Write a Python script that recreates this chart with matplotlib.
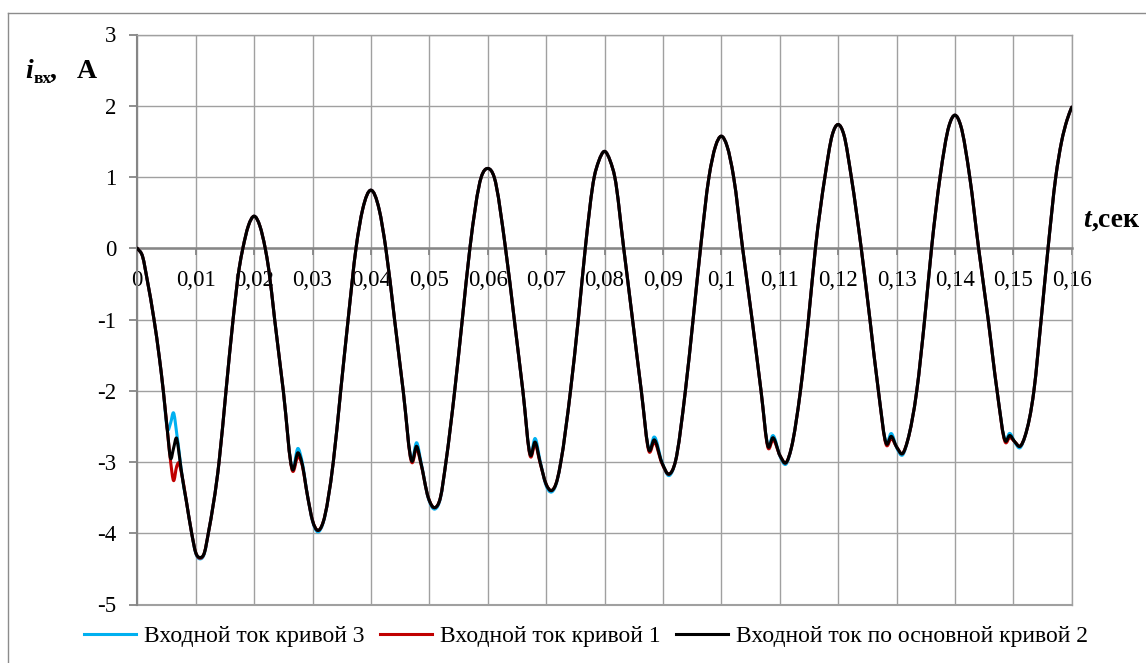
import numpy as np
import matplotlib
matplotlib.use("Agg")
import matplotlib.pyplot as plt
from matplotlib.path import Path
from matplotlib.patches import PathPatch
from matplotlib.lines import Line2D

plt.rcParams["font.family"] = ["Liberation Serif", "DejaVu Serif"]

# time, s
t = [
    0.00000, 0.00092, 0.00171, 0.00286, 0.00377, 0.00445, 0.00515, 0.00571,
    0.00620, 0.00675, 0.00710, 0.00750, 0.00840, 0.00931, 0.01000, 0.01074,
    0.01150, 0.01216, 0.01400, 0.01519, 0.01640, 0.01745, 0.01808, 0.01900,
    0.02000, 0.02100, 0.02190, 0.02248,
    0.02352, 0.02500, 0.02661, 0.02752, 0.02815, 0.02920, 0.03000, 0.03089,
    0.03180, 0.03356, 0.03483, 0.03610, 0.03745, 0.03860, 0.04000, 0.04140,
    0.04255,
    0.04405, 0.04553, 0.04704, 0.04784, 0.04853, 0.04983, 0.05098, 0.05190,
    0.05285, 0.05435, 0.05565, 0.05695, 0.05890, 0.06000, 0.06110, 0.06305,
    0.06455, 0.06602, 0.06736, 0.06810, 0.06896, 0.07000, 0.07096, 0.07190,
    0.07252, 0.07418, 0.07551, 0.07671, 0.07824, 0.07900, 0.08000, 0.08100,
    0.08176, 0.08329,
    0.08480, 0.08630, 0.08767, 0.08848, 0.08979, 0.09110, 0.09212, 0.09385,
    0.09517, 0.09644, 0.09789, 0.09900, 0.10000, 0.10100, 0.10211, 0.10365,
    0.10527, 0.10680, 0.10805, 0.10880, 0.11005, 0.11108, 0.11200, 0.11355,
    0.11492, 0.11612, 0.11774, 0.11900, 0.12000, 0.12100, 0.12226, 0.12396,
    0.12545, 0.12690, 0.12832, 0.12906, 0.13003, 0.13106, 0.13190, 0.13347,
    0.13482, 0.13600, 0.13746, 0.13900, 0.14000, 0.14100, 0.14254, 0.14406,
    0.14570, 0.14722, 0.14870, 0.14932, 0.15029, 0.15115, 0.15200, 0.15353,
    0.15477, 0.15595, 0.15727, 0.15825, 0.15920, 0.16000,
]

# input current for the main curve 2, A
i_main = [
    0.00, -0.12, -0.45, -1.00, -1.53, -2.00, -2.56, -2.95,
    -2.81, -2.67, -2.85, -3.10, -3.55, -4.00, -4.27, -4.34,
    -4.27, -4.00, -3.00, -2.00, -1.00, -0.28, 0.00, 0.31,
    0.45, 0.31, 0.00, -0.28,
    -1.00, -2.00, -3.11, -2.87, -3.00, -3.50, -3.82, -3.96,
    -3.85, -3.00, -2.00, -1.00, 0.00, 0.55, 0.815, 0.55,
    0.00,
    -1.00, -2.00, -2.99, -2.78, -3.00, -3.50, -3.64, -3.50,
    -3.00, -2.00, -1.00, 0.00, 1.00, 1.12, 1.00, 0.00,
    -1.00, -2.00, -2.91, -2.72, -3.00, -3.31, -3.40, -3.25,
    -3.00, -2.00, -1.00, 0.00, 1.00, 1.22, 1.36, 1.22,
    1.00, 0.00,
    -1.00, -2.00, -2.84, -2.69, -3.00, -3.17, -3.00, -2.00,
    -1.00, 0.00, 1.00, 1.43, 1.573, 1.43, 1.00, 0.00,
    -1.00, -2.00, -2.79, -2.66, -2.91, -3.01, -2.80, -2.00,
    -1.00, 0.00, 1.00, 1.59, 1.737, 1.59, 1.00, 0.00,
    -1.00, -2.00, -2.75, -2.64, -2.79, -2.88, -2.70, -2.00,
    -1.00, 0.00, 1.00, 1.72, 1.868, 1.72, 1.00, 0.00,
    -1.00, -2.00, -2.71, -2.63, -2.72, -2.78, -2.64, -2.00,
    -1.00, 0.00, 1.00, 1.49, 1.80, 1.98,
]

# input current for curve 3, A
i_curve3 = [
    0.00, -0.12, -0.45, -1.00, -1.53, -2.00, -2.54, -2.45,
    -2.31, -2.60, -2.82, -3.10, -3.55, -4.00, -4.28, -4.36,
    -4.28, -4.00, -3.00, -2.00, -1.00, -0.28, 0.00, 0.31,
    0.45, 0.31, 0.00, -0.28,
    -1.00, -2.00, -3.10, -2.81, -2.97, -3.50, -3.83, -3.98,
    -3.86, -3.00, -2.00, -1.00, 0.00, 0.55, 0.815, 0.55,
    0.00,
    -1.00, -2.00, -2.98, -2.73, -2.98, -3.51, -3.66, -3.51,
    -3.00, -2.00, -1.00, 0.00, 1.00, 1.12, 1.00, 0.00,
    -1.00, -2.00, -2.90, -2.67, -2.98, -3.33, -3.42, -3.26,
    -3.00, -2.00, -1.00, 0.00, 1.00, 1.22, 1.36, 1.22,
    1.00, 0.00,
    -1.00, -2.00, -2.83, -2.65, -2.99, -3.19, -3.00, -2.00,
    -1.00, 0.00, 1.00, 1.43, 1.573, 1.43, 1.00, 0.00,
    -1.00, -2.00, -2.78, -2.63, -2.92, -3.03, -2.80, -2.00,
    -1.00, 0.00, 1.00, 1.59, 1.737, 1.59, 1.00, 0.00,
    -1.00, -2.00, -2.74, -2.60, -2.80, -2.90, -2.70, -2.00,
    -1.00, 0.00, 1.00, 1.72, 1.868, 1.72, 1.00, 0.00,
    -1.00, -2.00, -2.70, -2.60, -2.73, -2.80, -2.64, -2.00,
    -1.00, 0.00, 1.00, 1.49, 1.80, 1.98,
]

# input current for curve 1, A
i_curve1 = [
    0.00, -0.12, -0.45, -1.00, -1.53, -2.00, -2.56, -3.00,
    -3.26, -3.06, -3.01, -3.13, -3.55, -4.00, -4.27, -4.35,
    -4.27, -4.00, -3.00, -2.00, -1.00, -0.28, 0.00, 0.31,
    0.45, 0.31, 0.00, -0.28,
    -1.00, -2.00, -3.13, -2.92, -3.02, -3.50, -3.82, -3.96,
    -3.85, -3.00, -2.00, -1.00, 0.00, 0.55, 0.815, 0.55,
    0.00,
    -1.00, -2.00, -3.01, -2.81, -3.01, -3.50, -3.64, -3.50,
    -3.00, -2.00, -1.00, 0.00, 1.00, 1.12, 1.00, 0.00,
    -1.00, -2.00, -2.93, -2.75, -3.01, -3.31, -3.40, -3.25,
    -3.00, -2.00, -1.00, 0.00, 1.00, 1.22, 1.36, 1.22,
    1.00, 0.00,
    -1.00, -2.00, -2.86, -2.72, -3.01, -3.17, -3.00, -2.00,
    -1.00, 0.00, 1.00, 1.43, 1.573, 1.43, 1.00, 0.00,
    -1.00, -2.00, -2.81, -2.69, -2.91, -3.01, -2.80, -2.00,
    -1.00, 0.00, 1.00, 1.59, 1.737, 1.59, 1.00, 0.00,
    -1.00, -2.00, -2.77, -2.67, -2.79, -2.88, -2.70, -2.00,
    -1.00, 0.00, 1.00, 1.72, 1.868, 1.72, 1.00, 0.00,
    -1.00, -2.00, -2.73, -2.66, -2.72, -2.78, -2.64, -2.00,
    -1.00, 0.00, 1.00, 1.49, 1.80, 1.98,
]

series_labels = [
    "Входной ток кривой 3",
    "Входной ток кривой 1",
    "Входной ток по основной кривой 2",
]
series_colors = ["#00B0F0", "#C00000", "#000000"]

x_ticks = [k / 100 for k in range(17)]
x_tick_labels = ["0", "0,01", "0,02", "0,03", "0,04", "0,05", "0,06", "0,07",
                 "0,08", "0,09", "0,1", "0,11", "0,12", "0,13", "0,14",
                 "0,15", "0,16"]
y_ticks = [3, 2, 1, 0, -1, -2, -3, -4, -5]
y_tick_labels = ["3", "2", "1", "0", "-1", "-2", "-3", "-4", "-5"]


def smooth_path(x, y):
    """Smoothed line through the points as cubic Bezier segments."""
    x = np.asarray(x, float)
    y = np.asarray(y, float)
    h = np.diff(x)
    d = np.diff(y) / h
    m = np.empty_like(y)
    m[1:-1] = (d[:-1] * h[1:] + d[1:] * h[:-1]) / (h[:-1] + h[1:])
    m[0] = d[0]
    m[-1] = d[-1]
    verts = [(x[0], y[0])]
    codes = [Path.MOVETO]
    for k in range(len(h)):
        verts += [(x[k] + h[k] / 3, y[k] + m[k] * h[k] / 3),
                  (x[k + 1] - h[k] / 3, y[k + 1] - m[k + 1] * h[k] / 3),
                  (x[k + 1], y[k + 1])]
        codes += [Path.CURVE4] * 3
    return Path(verts, codes)


W, H = 1146, 663
fig = plt.figure(figsize=(W / 100, H / 100), dpi=100)
fig.patch.set_facecolor("white")

# chart frame
frame_c = "#8c8c8c"
fig.add_artist(Line2D([8 / W, 8 / W], [0, 1 - 13 / H], color=frame_c, lw=1.0,
                      transform=fig.transFigure))
fig.add_artist(Line2D([8 / W, 1], [1 - 13 / H, 1 - 13 / H], color=frame_c,
                      lw=1.0, transform=fig.transFigure))

left, right, top, bottom = 137.3, 1071.7, 34.5, 604.5
ax = fig.add_axes([left / W, 1 - bottom / H, (right - left) / W,
                   (bottom - top) / H])
ax.set_xlim(0, 0.16)
ax.set_ylim(-5, 3)

grid_c = "#a0a0a0"
axis_c = "#868686"
ax.set_xticks(x_ticks)
ax.set_xticklabels(x_tick_labels)
ax.set_yticks(y_ticks)
ax.set_yticklabels(y_tick_labels)
ax.grid(True, color=grid_c, lw=1.0)
ax.set_axisbelow(True)

for side in ("top", "right"):
    ax.spines[side].set_color(grid_c)
    ax.spines[side].set_linewidth(1.0)
ax.spines["left"].set_color(axis_c)
ax.spines["left"].set_linewidth(1.5)
ax.spines["bottom"].set_color(axis_c)
ax.spines["bottom"].set_linewidth(1.8)
ax.spines["bottom"].set_position(("data", 0))
ax.axhline(-5, color=grid_c, lw=1.5, clip_on=False, zorder=0.5)

ax.tick_params(axis="x", direction="out", length=5, width=1.3, color=axis_c,
               pad=11, labelsize=16.5)
ax.tick_params(axis="y", direction="out", length=6, width=1.3, color=axis_c,
               pad=9, labelsize=16.5)

for yv, col in zip([i_curve3, i_curve1, i_main], series_colors):
    ax.add_patch(PathPatch(smooth_path(t, yv), fill=False, edgecolor=col,
                           lw=2.2, joinstyle="round", capstyle="round",
                           zorder=3))

handles = [Line2D([], [], color=c, lw=2.2) for c in series_colors]
fig.legend(handles, series_labels, loc="center",
           bbox_to_anchor=(586 / W, 1 - 636 / H), ncol=3, frameon=False,
           fontsize=17, handlelength=2.2, handletextpad=0.34,
           columnspacing=0.64, borderpad=0, borderaxespad=0)

# axis titles
fig.text(25 / W, 1 - 78 / H, "i", fontsize=20, fontweight="bold",
         style="italic", va="baseline", ha="left")
fig.text(34 / W, 1 - 83 / H, "вх", fontsize=12.5, fontweight="bold",
         va="baseline", ha="left")
fig.text(50 / W, 1 - 78 / H, ",", fontsize=20, fontweight="bold",
         va="baseline", ha="left")
fig.text(77 / W, 1 - 78 / H, "А", fontsize=20, fontweight="bold",
         va="baseline", ha="left")

fig.text(1083 / W, 1 - 227 / H, "t", fontsize=20, fontweight="bold",
         style="italic", va="baseline", ha="left")
fig.text(1092 / W, 1 - 227 / H, ",сек", fontsize=20, fontweight="bold",
         va="baseline", ha="left")

fig.savefig("out.png", dpi=100, facecolor="white")
